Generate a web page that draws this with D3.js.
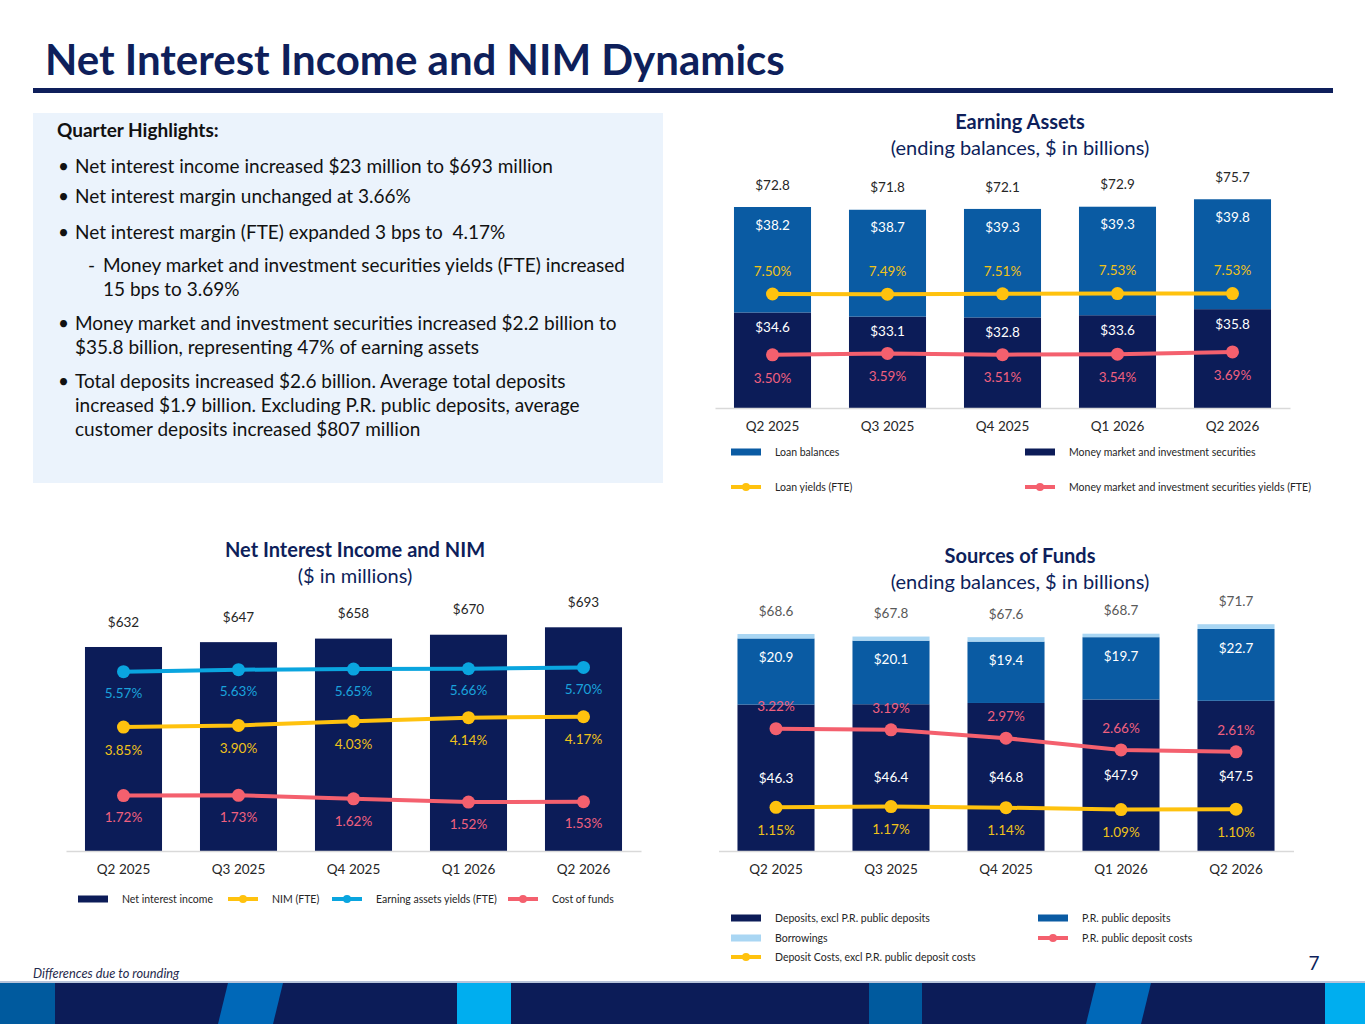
<!DOCTYPE html>
<html lang="en">
<head>
<meta charset="UTF-8">
<title>Net Interest Income and NIM Dynamics</title>
<script src="https://cdnjs.cloudflare.com/ajax/libs/d3/7.8.5/d3.min.js"></script>
<style>
    body { margin: 0; background: #fff; font-family: Lato, "Open Sans", sans-serif; }
    svg { display: block; }
    .axis .domain { stroke: #D9D9D9; stroke-width: 1.5; }
    .axis text { font-size: 13.5px; fill: #262626; font-family: Lato, sans-serif; }
</style>
</head>
<body>
<div id="slide"></div>
<script>
// quarters shared by all three charts
const quarters = ["Q2 2025", "Q3 2025", "Q4 2025", "Q1 2026", "Q2 2026"];

// Earning Assets ($ billions)
const eaLoans = [38.2, 38.7, 39.3, 39.3, 39.8];
const eaSecurities = [34.6, 33.1, 32.8, 33.6, 35.8];
const eaTotals = [72.8, 71.8, 72.1, 72.9, 75.7];
const loanYields = [7.50, 7.49, 7.51, 7.53, 7.53];
const secYields = [3.50, 3.59, 3.51, 3.54, 3.69];

// Net interest income ($ millions) and rates (%)
const nii = [632, 647, 658, 670, 693];
const nimFte = [3.85, 3.90, 4.03, 4.14, 4.17];
const eaYields = [5.57, 5.63, 5.65, 5.66, 5.70];
const costOfFunds = [1.72, 1.73, 1.62, 1.52, 1.53];

// Sources of funds ($ billions)
const deposits = [46.3, 46.4, 46.8, 47.9, 47.5];
const prDeposits = [20.9, 20.1, 19.4, 19.7, 22.7];
const borrowings = [1.4, 1.3, 1.4, 1.1, 1.5];
const sfTotals = [68.6, 67.8, 67.6, 68.7, 71.7];
const prCosts = [3.22, 3.19, 2.97, 2.66, 2.61];
const depCosts = [1.15, 1.17, 1.14, 1.09, 1.10];

const NAVY = "#0C1C58", BLUE = "#0A5BA3", LIGHT = "#A9D6F3",
      YELLOW = "#FFC20E", PINK = "#F4606E", CYAN = "#0AA5DF",
      YELLOW_T = "#F0C21A", PINK_T = "#F0607F", CYAN_T = "#1AA3DC";

const svg = d3.select("#slide").append("svg")
    .attr("width", 1365).attr("height", 1024);

// ---- header ----
svg.append("text").attr("x", 45).attr("y", 75)
    .attr("font-size", 42).attr("font-weight", 700).attr("fill", "#0E1F5B")
    .text("Net Interest Income and NIM Dynamics");
svg.append("rect").attr("x", 33).attr("y", 88).attr("width", 1300).attr("height", 5).attr("fill", "#0E1F5B");

// ---- highlights box ----
svg.append("rect").attr("x", 33).attr("y", 113).attr("width", 630).attr("height", 370).attr("fill", "#EBF3FC");
svg.append("text").attr("x", 57).attr("y", 137).attr("font-size", 19).attr("font-weight", 700)
    .attr("fill", "#111").text("Quarter Highlights:");

const highlights = [
    {mark: "•", lines: ["Net interest income increased $23 million to $693 million"], y: 173},
    {mark: "•", lines: ["Net interest margin unchanged at 3.66%"], y: 203},
    {mark: "•", lines: ["Net interest margin (FTE) expanded 3 bps to  4.17%"], y: 239},
    {mark: "-", sub: true, lines: ["Money market and investment securities yields (FTE) increased", "15 bps to 3.69%"], y: 272},
    {mark: "•", lines: ["Money market and investment securities increased $2.2 billion to", "$35.8 billion, representing 47% of earning assets"], y: 330},
    {mark: "•", lines: ["Total deposits increased $2.6 billion. Average total deposits", "increased $1.9 billion. Excluding P.R. public deposits, average", "customer deposits increased $807 million"], y: 388}
];
highlights.forEach(h => {
    const mx = h.sub ? 88 : 58, tx = h.sub ? 103 : 75;
    svg.append("text").attr("x", mx).attr("y", h.y).attr("font-size", 19).attr("fill", "#111").text(h.mark);
    h.lines.forEach((l, i) => {
        svg.append("text").attr("x", tx).attr("y", h.y + i * 24)
            .attr("font-size", 19).attr("fill", "#111").style("white-space", "pre").text(l);
    });
});

// ---- helpers ----
function chartTitle(cx, y, title, sub) {
    svg.append("text").attr("x", cx).attr("y", y).attr("text-anchor", "middle")
        .attr("font-size", 20).attr("font-weight", 700).attr("fill", "#0E1F5B").text(title);
    svg.append("text").attr("x", cx).attr("y", y + 26).attr("text-anchor", "middle")
        .attr("font-size", 20).attr("fill", "#0E1F5B").text(sub);
}

function xAxis(x, baseY) {
    svg.append("g").attr("class", "axis")
        .attr("transform", `translate(0,${baseY})`)
        .call(d3.axisBottom(x).tickSize(0).tickPadding(13))
        .call(g => g.selectAll("text").attr("dy", "0.71em"));
}

function label(x, y, txt, color, size, anchor) {
    svg.append("text").attr("x", x).attr("y", y).attr("dy", "0.35em")
        .attr("text-anchor", anchor || "middle").attr("font-size", size || 13.5)
        .attr("fill", color).text(txt);
}

function rateLine(x, y, values, color, textColor, offset) {
    const pts = values.map((v, i) => [x(quarters[i]) + x.bandwidth() / 2, y(v)]);
    svg.append("path").datum(pts).attr("fill", "none").attr("stroke", color)
        .attr("stroke-width", 4).attr("d", d3.line());
    svg.selectAll(null).data(pts).enter().append("circle")
        .attr("cx", d => d[0]).attr("cy", d => d[1]).attr("r", 6.5).attr("fill", color);
    pts.forEach((p, i) => label(p[0], p[1] + offset, values[i].toFixed(2) + "%", textColor));
}

function legend(items) {
    items.forEach(it => {
        if (it.type === "rect") {
            svg.append("rect").attr("x", it.x).attr("y", it.y - 3.5).attr("width", 30).attr("height", 7).attr("fill", it.color);
        } else {
            svg.append("line").attr("x1", it.x).attr("x2", it.x + 30).attr("y1", it.y).attr("y2", it.y)
                .attr("stroke", it.color).attr("stroke-width", 4);
            svg.append("circle").attr("cx", it.x + 15).attr("cy", it.y).attr("r", 4).attr("fill", it.color);
        }
        label(it.x + 44, it.y, it.label, "#262626", 10.5, "start");
    });
}

function stackedBars(x, y, keys, colors, rows) {
    const series = d3.stack().keys(keys)(rows);
    svg.append("g").selectAll("g").data(series).enter().append("g")
        .attr("fill", (d, i) => colors[i])
        .selectAll("rect").data(d => d).enter().append("rect")
        .attr("x", d => x(d.data.q)).attr("width", x.bandwidth())
        .attr("y", d => y(d[1])).attr("height", d => y(d[0]) - y(d[1]));
    return series;
}

// ---- Earning Assets ----
chartTitle(1020, 129, "Earning Assets", "(ending balances, $ in billions)");
{
    const base = 408;
    const x = d3.scaleBand().domain(quarters).range([715, 1290]).paddingInner(0.33).paddingOuter(0.165);
    const y = d3.scaleLinear().domain([0, 80]).range([base, base - 80 * 2.761]);
    const y2 = d3.scaleLinear().domain([0, 10]).range([base, base - 152]);
    const rows = quarters.map((q, i) => ({q, sec: eaSecurities[i], loans: eaLoans[i]}));
    stackedBars(x, y, ["sec", "loans"], [NAVY, BLUE], rows);
    xAxis(x, base);
    rows.forEach((r, i) => {
        const cx = x(r.q) + x.bandwidth() / 2;
        label(cx, y(r.sec + r.loans) - 22, "$" + eaTotals[i].toFixed(1), "#262626", 13.5);
        label(cx, y(r.sec + r.loans) + 18, "$" + eaLoans[i].toFixed(1), "#fff", 13.5);
        label(cx, y(r.sec) + 15, "$" + eaSecurities[i].toFixed(1), "#fff", 13.5);
    });
    rateLine(x, y2, loanYields, YELLOW, YELLOW_T, -23);
    rateLine(x, y2, secYields, PINK, PINK_T, 23);
    legend([
        {type: "rect", color: BLUE, label: "Loan balances", x: 731, y: 452},
        {type: "rect", color: NAVY, label: "Money market and investment securities", x: 1025, y: 452},
        {type: "line", color: YELLOW, label: "Loan yields (FTE)", x: 731, y: 487},
        {type: "line", color: PINK, label: "Money market and investment securities yields (FTE)", x: 1025, y: 487}
    ]);
}

// ---- Net Interest Income and NIM ----
chartTitle(355, 557, "Net Interest Income and NIM", "($ in millions)");
{
    const base = 851;
    const x = d3.scaleBand().domain(quarters).range([66, 641]).paddingInner(0.33).paddingOuter(0.165);
    const y = d3.scaleLinear().domain([0, 700]).range([base, base - 700 * 0.3228]);
    const y2 = d3.scaleLinear().domain([0, 6]).range([base, base - 6 * 32.2]);
    svg.append("g").selectAll("rect").data(nii).enter().append("rect")
        .attr("x", (d, i) => x(quarters[i])).attr("width", x.bandwidth())
        .attr("y", d => y(d)).attr("height", d => base - y(d)).attr("fill", NAVY);
    xAxis(x, base);
    nii.forEach((v, i) => label(x(quarters[i]) + x.bandwidth() / 2, y(v) - 25, "$" + v, "#262626", 13.5));
    rateLine(x, y2, eaYields, CYAN, CYAN_T, 22);
    rateLine(x, y2, nimFte, YELLOW, YELLOW_T, 23);
    rateLine(x, y2, costOfFunds, PINK, PINK_T, 22);
    legend([
        {type: "rect", color: NAVY, label: "Net interest income", x: 78, y: 899},
        {type: "line", color: YELLOW, label: "NIM (FTE)", x: 228, y: 899},
        {type: "line", color: CYAN, label: "Earning assets yields (FTE)", x: 332, y: 899},
        {type: "line", color: PINK, label: "Cost of funds", x: 508, y: 899}
    ]);
}

// ---- Sources of Funds ----
chartTitle(1020, 563, "Sources of Funds", "(ending balances, $ in billions)");
{
    const base = 851;
    const x = d3.scaleBand().domain(quarters).range([718.5, 1293.5]).paddingInner(0.33).paddingOuter(0.165);
    const y = d3.scaleLinear().domain([0, 75]).range([base, base - 75 * 3.163]);
    const y2 = d3.scaleLinear().domain([0, 4]).range([base, base - 4 * 38]);
    const rows = quarters.map((q, i) => ({q, dep: deposits[i], pr: prDeposits[i], bor: borrowings[i]}));
    stackedBars(x, y, ["dep", "pr", "bor"], [NAVY, BLUE, LIGHT], rows);
    xAxis(x, base);
    rows.forEach((r, i) => {
        const cx = x(r.q) + x.bandwidth() / 2;
        label(cx, y(r.dep + r.pr + r.bor) - 23, "$" + sfTotals[i].toFixed(1), "#595959", 13.5);
        label(cx, y(r.dep + r.pr) + 19, "$" + prDeposits[i].toFixed(1), "#fff", 13.5);
        label(cx, (y(0) + y(r.dep)) / 2, "$" + deposits[i].toFixed(1), "#fff", 13.5);
    });
    rateLine(x, y2, prCosts, PINK, PINK_T, -22);
    rateLine(x, y2, depCosts, YELLOW, YELLOW_T, 23);
    legend([
        {type: "rect", color: NAVY, label: "Deposits, excl P.R. public deposits", x: 731, y: 918},
        {type: "rect", color: BLUE, label: "P.R. public deposits", x: 1038, y: 918},
        {type: "rect", color: LIGHT, label: "Borrowings", x: 731, y: 938},
        {type: "line", color: PINK, label: "P.R. public deposit costs", x: 1038, y: 938},
        {type: "line", color: YELLOW, label: "Deposit Costs, excl P.R. public deposit costs", x: 731, y: 957}
    ]);
}

// ---- footer ----
svg.append("text").attr("x", 33).attr("y", 978).attr("font-size", 12.8).attr("font-style", "italic")
    .attr("fill", "#1F2A4D").text("Differences due to rounding");
svg.append("text").attr("x", 1314).attr("y", 970).attr("text-anchor", "middle").attr("font-size", 19)
    .attr("fill", "#0E1F5B").text("7");
svg.append("rect").attr("x", 0).attr("y", 981).attr("width", 1365).attr("height", 2).attr("fill", "#B8C4DA");
svg.append("rect").attr("x", 0).attr("y", 983).attr("width", 1365).attr("height", 41).attr("fill", NAVY);
const banner = [
    {pts: [[0, 983], [55, 983], [55, 1024], [0, 1024]], c: "#005A9E"},
    {pts: [[228, 983], [283, 983], [273, 1024], [218, 1024]], c: "#0068B8"},
    {pts: [[457, 983], [511, 983], [511, 1024], [457, 1024]], c: "#00AEEF"},
    {pts: [[869, 983], [922, 983], [922, 1024], [869, 1024]], c: "#005A9E"},
    {pts: [[1096, 983], [1151, 983], [1141, 1024], [1086, 1024]], c: "#0068B8"},
    {pts: [[1325, 983], [1365, 983], [1365, 1024], [1325, 1024]], c: "#00AEEF"}
];
svg.selectAll(null).data(banner).enter().append("polygon")
    .attr("points", d => d.pts.map(p => p.join(",")).join(" ")).attr("fill", d => d.c);
</script>
</body>
</html>
